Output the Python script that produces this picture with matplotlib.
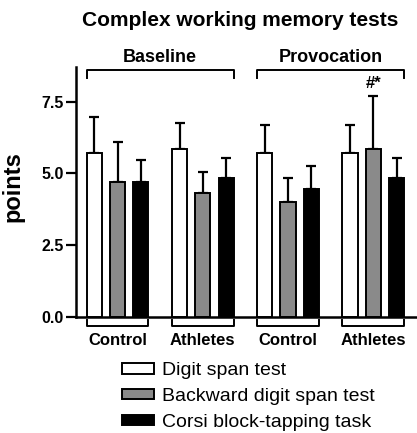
import numpy as np
import matplotlib
matplotlib.use('Agg')
from matplotlib import pyplot as plt

plt.rcParams['font.family'] = ['Liberation Sans', 'DejaVu Sans']

# data
groups = ['Control', 'Athletes', 'Control', 'Athletes']
phases = ['Baseline', 'Provocation']
tests = ['Digit span test', 'Backward digit span test', 'Corsi block-tapping task']
digit_span = [5.7, 5.85, 5.7, 5.7]
digit_span_err = [1.25, 0.9, 1.0, 1.0]
backward_span = [4.7, 4.3, 4.0, 5.85]
backward_span_err = [1.4, 0.75, 0.85, 1.85]
corsi = [4.7, 4.85, 4.45, 4.85]
corsi_err = [0.75, 0.7, 0.8, 0.7]
yticks = [0.0, 2.5, 5.0, 7.5]

means = [digit_span, backward_span, corsi]
errs = [digit_span_err, backward_span_err, corsi_err]
colors = ['white', '#8a8a8a', 'black']

fig = plt.figure(figsize=(4.17, 4.33), dpi=100)
ax = fig.add_axes([0.182, 0.268, 0.818, 0.577])

gstart = np.arange(4) * 3.66
w = 0.65
for i in range(3):
    x = gstart + i
    ax.bar(x, means[i], width=w, color=colors[i], edgecolor='black',
           linewidth=1.4, label=tests[i], zorder=3)
    ax.errorbar(x, means[i], yerr=[np.zeros(4), errs[i]], fmt='none',
                ecolor='black', elinewidth=1.6, capsize=3.3, capthick=1.6, zorder=2)

ax.set_xlim(-0.79, 13.86)
ax.set_ylim(0, 8.7)
ax.set_yticks(yticks)
ax.set_yticklabels(['%.1f' % t for t in yticks], fontsize=11.5, fontweight='bold')
ax.set_xticks([])
ax.tick_params(axis='y', length=7, width=1.6, pad=2)
ax.spines['top'].set_visible(False)
ax.spines['right'].set_visible(False)
ax.spines['left'].set_linewidth(1.8)
ax.spines['bottom'].set_linewidth(1.8)
ax.set_ylabel('points', fontsize=17, fontweight='bold')
ax.yaxis.set_label_coords(-0.15, 0.52)

# group brackets below axis
for k, g in enumerate(gstart):
    x0, x1 = g - w / 2, g + 2 + w / 2
    ax.plot([x0, x0, x1, x1], [-0.1, -0.3, -0.3, -0.1], color='black',
            lw=1.4, clip_on=False)
    ax.text(g + 1, -0.82, groups[k], ha='center', va='center',
            fontsize=12, fontweight='bold')

# phase brackets on top
for k in range(2):
    x0 = gstart[2 * k] - w / 2
    x1 = gstart[2 * k + 1] + 2 + w / 2
    ax.plot([x0, x0, x1, x1], [8.33, 8.6, 8.6, 8.33], color='black',
            lw=1.4, clip_on=False)
    ax.text((x0 + x1) / 2, 9.05, phases[k], ha='center', va='center',
            fontsize=13, fontweight='bold')

ax.text(gstart[3] + 1, backward_span[3] + backward_span_err[3] + 0.42, '#*',
        ha='center', va='center', fontsize=12, fontweight='bold')

fig.text(0.576, 0.953, 'Complex working memory tests', ha='center', va='center',
         fontsize=15, fontweight='bold')

fig.legend(loc='upper left', bbox_to_anchor=(0.293, 0.163), frameon=False,
           fontsize=14, handlelength=1.65, handleheight=0.42,
           handletextpad=0.41, labelspacing=0.44, borderpad=0, borderaxespad=0)

fig.savefig('out.png', dpi=100)
